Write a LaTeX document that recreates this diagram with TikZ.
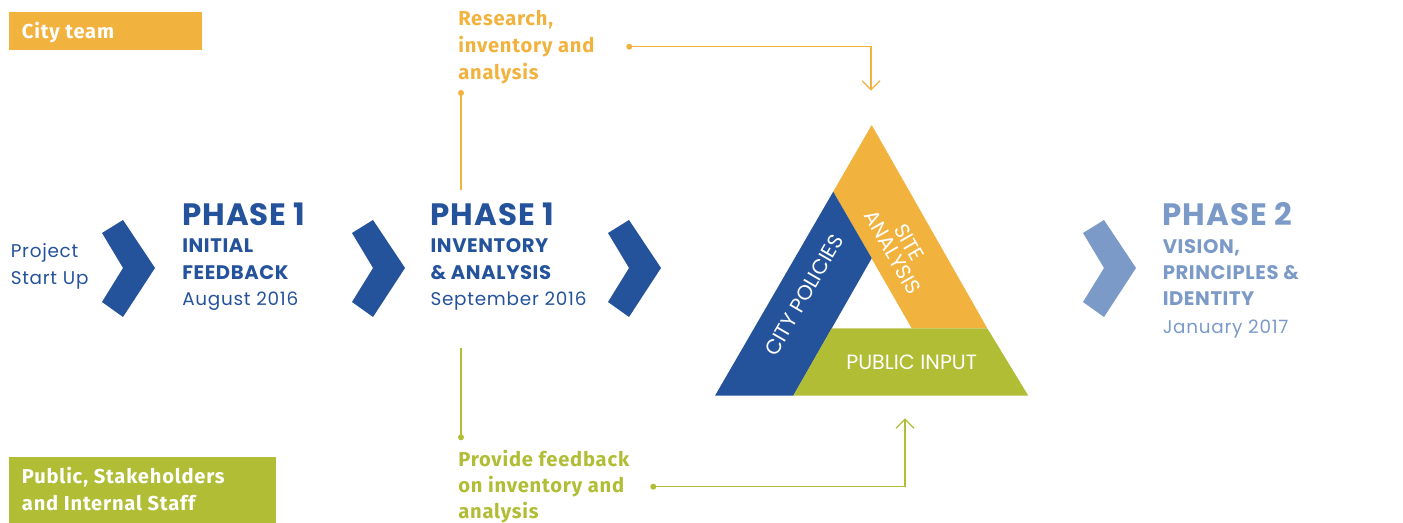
\documentclass[tikz,border=0pt]{standalone}
\usepackage{fontspec}
\setmainfont{Poppins}
\newfontfamily\lblfont[LetterSpace=4]{Fira Sans}
\newfontfamily\regfont[LetterSpace=4]{Poppins}
\newfontfamily\subfont[LetterSpace=3]{Poppins}
\usetikzlibrary{arrows.meta}
\definecolor{cblue}{HTML}{25539B}
\definecolor{lblue}{HTML}{7C9AC7}
\definecolor{corange}{HTML}{F2B23E}
\definecolor{cgreen}{HTML}{B0BD35}
\tikzset{
  txt/.style={anchor=base west, inner sep=0pt},
  head/.style={txt, font=\subfont\fontsize{23.2}{23.2}\selectfont\bfseries},
  sub/.style={txt, font=\subfont\fontsize{14.7}{14.7}\selectfont\bfseries},
  reg/.style={txt, font=\regfont\fontsize{13.8}{13.8}\selectfont},
  lbl/.style={txt, font=\lblfont\fontsize{15.1}{15.1}\selectfont\bfseries},
  chev/.style={fill=#1, draw=none},
  conn/.style={line width=1pt},
  dotc/.style={circle, fill, inner sep=0pt, minimum size=4.5pt},
  tri/.style={text=white, font=\fontsize{15.5}{14.5}\selectfont, inner sep=0pt, align=center},
}
\begin{document}
\begin{tikzpicture}[x=0.75pt,y=-0.75pt]
\useasboundingbox (0,0) rectangle (1403,523);

% legend boxes
\fill[corange] (9,12) rectangle (202,50);
\node[lbl, text=white] (cityteam) at (21.7,38.3) {City team};
\fill[cgreen] (9,457) rectangle (276,523);
\node[lbl, text=white] (pub1) at (21.7,484) {Public, Stakeholders};
\node[lbl, text=white] (pub2) at (21.7,511) {and Internal Staff};

% chevrons
\foreach \x/\c in {102/cblue, 352/cblue, 608/cblue, 1083/lblue}{
  \fill[chev=\c] (\x,233) -- (\x+21,220) -- (\x+53,268) -- (\x+21,317) -- (\x,302) -- (\x+21,268) -- cycle;
}

% texts
\node[reg, text=cblue] (proj1) at (10.5,257.3) {Project};
\node[reg, text=cblue] (proj2) at (10.5,285) {Start Up};

\node[head, text=cblue] (ph1) at (182,226) {PHASE 1};
\node[sub, text=cblue] (ph1a) at (182,252.7) {INITIAL};
\node[sub, text=cblue] (ph1b) at (182,279.3) {FEEDBACK};
\node[reg, text=cblue] (ph1c) at (182,306) {August 2016};

\node[head, text=cblue] (ph2) at (430.3,226) {PHASE 1};
\node[sub, text=cblue] (ph2a) at (430.3,252.7) {INVENTORY};
\node[sub, text=cblue] (ph2b) at (430.3,279.3) {\&~ANALYSIS};
\node[reg, text=cblue] (ph2c) at (430.3,306) {September 2016};

\node[head, text=lblue] (ph3) at (1162.5,225.5) {PHASE 2};
\node[sub, text=lblue] (ph3a) at (1162.5,253.3) {VISION,};
\node[sub, text=lblue] (ph3b) at (1162.5,280) {PRINCIPLES \&};
\node[sub, text=lblue] (ph3c) at (1162.5,306) {IDENTITY};
\node[reg, text=lblue] (ph3d) at (1162.5,333.3) {January 2017};

% orange labels
\node[lbl, text=corange] (res1) at (458,26) {Research,};
\node[lbl, text=corange] (res2) at (458,53) {inventory and};
\node[lbl, text=corange] (res3) at (458,80) {analysis};

\node[lbl, text=cgreen] (fb1) at (458,466.7) {Provide feedback};
\node[lbl, text=cgreen] (fb2) at (458,492.5) {on inventory and};
\node[lbl, text=cgreen] (fb3) at (458,518.5) {analysis};

% triangle
\coordinate (A) at (871.7,125);
\coordinate (B) at (715,395.7);
\coordinate (C) at (1028.3,395.7);
\coordinate (P) at (833.2,191.7);
\coordinate (Q) at (987.3,328.3);
\coordinate (R) at (793.3,395.7);
\coordinate (ia) at (871.7,258.3);
\coordinate (ib) at (831.7,328.3);
\coordinate (ic) at (911.7,328.3);
\fill[corange] (A) -- (Q) -- (ic) -- (P) -- cycle;
\fill[cblue] (P) -- (B) -- (R) -- (ia) -- cycle;
\fill[cgreen] (ib) -- (Q) -- (C) -- (R) -- cycle;
\node[tri] (pubin) at (911.7,362.7) {PUBLIC INPUT};
\node[tri, rotate=60] (citypol) at (804,295) {CITY POLICIES};
\node[tri, rotate=-60] (site) at (901,247.5) {SITE\\ANALYSIS};

% connectors
\coordinate (rdot) at (629.3,46.7);
\coordinate (rtip) at (871,90.7);
\coordinate (rdot2) at (461,93);
\coordinate (rend2) at (461,190);
\draw[conn, corange, -{Straight Barb[length=6.75pt, width=13.5pt, line width=1pt]}] (rdot) -| (rtip);
\draw[conn, corange] (rdot2) -- (rend2);
\node[dotc, fill=corange] (rd1) at (rdot) {};
\node[dotc, fill=corange] (rd2) at (rdot2) {};

\coordinate (gdot) at (653.3,486.7);
\coordinate (gtip) at (905,418.3);
\coordinate (gtop) at (461,348);
\coordinate (gdot2) at (461,437.3);
\draw[conn, cgreen, -{Straight Barb[length=6.75pt, width=13.5pt, line width=1pt]}] (gdot) -| (gtip);
\draw[conn, cgreen] (gtop) -- (gdot2);
\node[dotc, fill=cgreen] (gd1) at (gdot) {};
\node[dotc, fill=cgreen] (gd2) at (gdot2) {};
\end{tikzpicture}
\end{document}
